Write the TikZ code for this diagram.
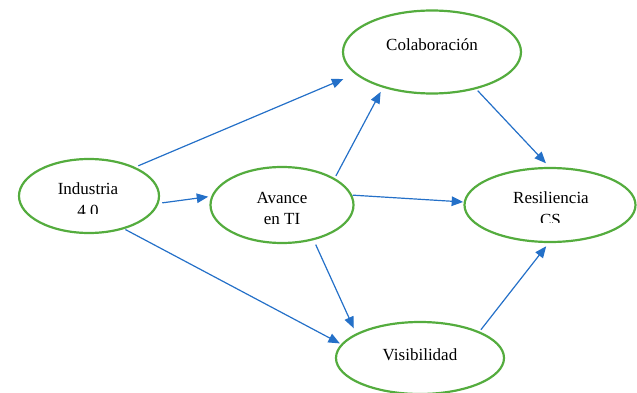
\documentclass[tikz,border=0pt]{standalone}
\usepackage{fontspec}
\setmainfont{Liberation Serif}
\usetikzlibrary{shapes.geometric,arrows.meta}
\definecolor{egreen}{RGB}{84,172,62}
\definecolor{ablue}{RGB}{36,112,200}
\begin{document}
\begin{tikzpicture}[x=1pt,y=-1pt,
  ell/.style={ellipse, draw=egreen, line width=2.2pt, inner sep=0pt},
  lab/.style={font=\fontsize{17}{20}\selectfont, anchor=base, inner sep=0pt, text=black},
  arr/.style={draw=ablue, line width=1.2pt, -{Triangle[length=11.5pt,width=9.5pt]}}]
\useasboundingbox (0,0) rectangle (637,393);
% ellipses
\node[ell, minimum width=140pt, minimum height=74pt] (ind) at (89,196) {};
\node[ell, minimum width=143pt, minimum height=76pt] (ava) at (282,205) {};
\node[ell, minimum width=178pt, minimum height=83pt] (col) at (432,52) {};
\node[ell, minimum width=171pt, minimum height=74pt] (res) at (550,205) {};
\node[ell, minimum width=168pt, minimum height=72pt] (vis) at (420,358) {};
% labels
\node[lab] (indA) at (88,194) {Industria};
\begin{scope}
  \clip (20,150) rectangle (158,213);
  \node[lab] (indB) at (88,216) {4.0};
\end{scope}
\node[lab] (avaA) at (282,203) {Avance};
\node[lab] (avaB) at (282,224) {en TI};
\node[lab] (colA) at (432,51) {Colaboración};
\node[lab] (resA) at (551,203) {Resiliencia};
\begin{scope}
  \clip (470,150) rectangle (630,222.5);
  \node[lab] (resB) at (550.5,225) {CS};
\end{scope}
\node[lab] (visA) at (420,360) {Visibilidad};
% connectors
\draw[arr, shorten <=3.3pt, shorten >=12.6pt] (ind.32) -- (col.196.6);
\draw[arr, shorten <=3.5pt, shorten >=3pt] (ind.-6.3) -- (ava.173.7);
\draw[arr, shorten <=1.1pt, shorten >=1.4pt] (ind.-43.3) -- (vis.170.8);
\draw[arr, shorten <=2.5pt, shorten >=4.7pt] (ava.27.8) -- (col.216.7);
\draw[arr, shorten <=0.5pt, shorten >=0.5pt] (ava.8) -- (res.178);
\draw[arr, shorten <=4.9pt, shorten >=5.7pt] (ava.-48.2) -- (vis.159.1);
\draw[arr, shorten <=2.2pt, shorten >=5pt] (col.-40.8) -- (res.91.4);
\draw[arr, shorten <=2.2pt, shorten >=4pt] (vis.24.2) -- (res.268.6);
\end{tikzpicture}
\end{document}
